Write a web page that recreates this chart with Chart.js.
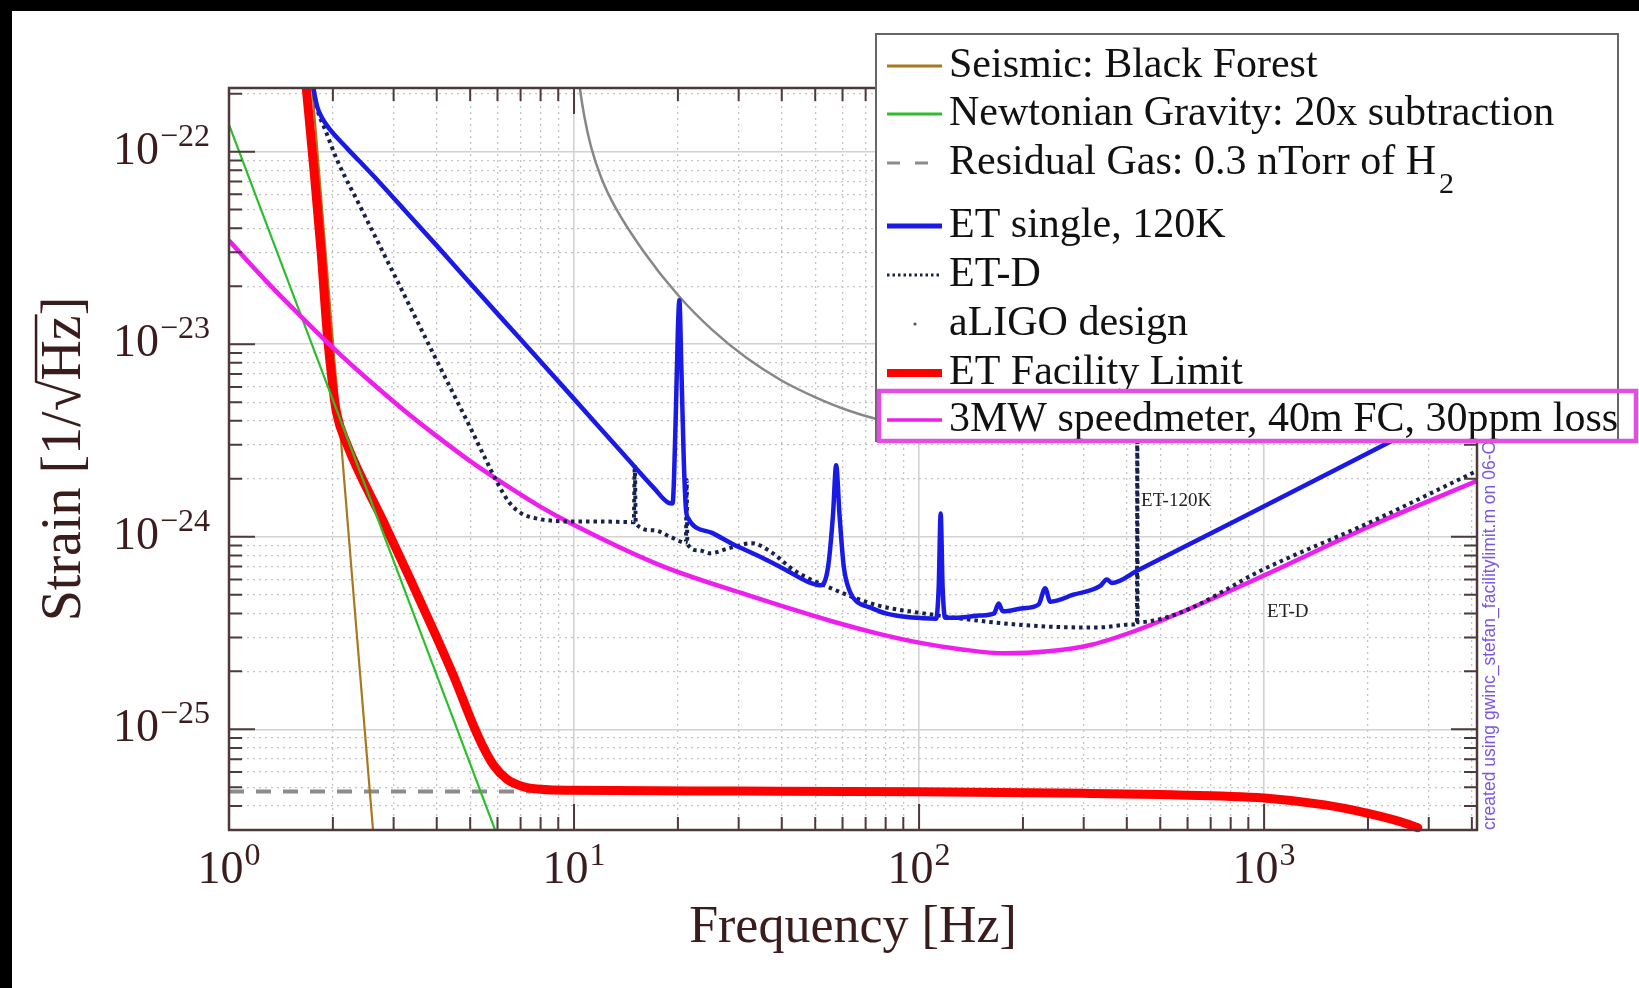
<!DOCTYPE html>
<html>
<head>
<meta charset="utf-8">
<title>ET facility limit</title>
<script src="https://cdn.jsdelivr.net/npm/chart.js@4.4.1/dist/chart.umd.min.js"></script>
<style>
html, body { margin:0; padding:0; background:#fff; overflow:hidden; }
canvas { display:block; }
</style>
</head>
<body>
<canvas id="chart" width="1639" height="988"></canvas>
<script>
// ---------------- axis ranges & tick labels ----------------
const X_MIN = 1, X_MAX = 4140;
const Y_MIN = 3e-26, Y_MAX = 2.14e-22;
const xMajorTicks = [1, 10, 100, 1000];
const xTickLabels = ['10^0', '10^1', '10^2', '10^3'];
const yMajorTicks = [1e-25, 1e-24, 1e-23, 1e-22];
const yTickLabels = ['10^−25', '10^−24', '10^−23', '10^−22'];
const xTitle = 'Frequency [Hz]';
const yTitle = 'Strain [1/√Hz]';

// ---------------- series (frequency [Hz], strain [1/sqrt(Hz)]) ----------------
const seismicF = [1.7, 2.33, 2.7];
const seismicH = [3.7e-22, 3.63e-25, 1.5e-26];

const newtonianF = [1, 6.6];
const newtonianH = [1.38e-22, 1.77e-26];

const gasF = [1, 7.5];
const gasH = [4.76e-26, 4.76e-26];

const etSingleF = [1.72, 1.76, 1.8, 1.86, 1.95, 2.2, 2.6, 3.17, 4, 5, 7, 10, 14, 17, 18.8, 19.3, 19.7, 20.0, 20.2, 20.45, 20.8, 21.1, 21.4, 25, 28.7, 35, 40.6, 48, 52, 54.5, 56.3, 57.5, 58.8, 60.5, 63, 66, 72, 80, 90, 103, 112, 114, 115.5, 117, 119, 130, 150, 165, 170, 175, 200, 222, 232, 240, 280, 335, 350, 362, 431, 1000, 2274, 4140];
const etSingleH = [3.0e-22, 2.1e-22, 1.72e-22, 1.5e-22, 1.32e-22, 1.04e-22, 7.6e-23, 5.15e-23, 3.25e-23, 2.07e-23, 1.06e-23, 5.2e-24, 2.65e-24, 1.8e-24, 1.5e-24, 1.49e-24, 4e-24, 1.2e-23, 1.69e-23, 8e-24, 2.5e-24, 1.4e-24, 1.25e-24, 1.05e-24, 9.2e-25, 7.8e-25, 6.8e-25, 5.8e-25, 5.6e-25, 7.0e-25, 1.3e-24, 2.35e-24, 1.3e-24, 7.0e-25, 5.2e-25, 4.6e-25, 4.3e-25, 4.0e-25, 3.85e-25, 3.77e-25, 3.75e-25, 5.5e-25, 1.32e-24, 5.5e-25, 3.8e-25, 3.8e-25, 3.9e-25, 4.0e-25, 4.5e-25, 4.1e-25, 4.25e-25, 4.45e-25, 5.4e-25, 4.6e-25, 5.0e-25, 5.55e-25, 6.0e-25, 5.75e-25, 6.7e-25, 1.44e-24, 3.06e-24, 5.3e-24];

const etdF = [1.72, 1.76, 1.8, 1.9, 2.06, 2.4, 2.87, 3.3, 3.9, 4.6, 5.0, 5.5, 6.0, 6.5, 7.0, 7.7, 8.7, 10, 12, 14.9, 15.0, 15.1, 17, 19, 21.1, 21.2, 21.3, 23, 24.8, 28, 32.8, 37, 43.4, 54.8, 76, 103, 173, 250, 330, 411, 428, 429, 430, 564, 1000, 2050, 4140];
const etdH = [3.0e-22, 2.1e-22, 1.68e-22, 1.3e-22, 9.0e-23, 5.19e-23, 2.73e-23, 1.65e-23, 9.0e-24, 4.99e-24, 3.7e-24, 2.6e-24, 1.9e-24, 1.5e-24, 1.33e-24, 1.25e-24, 1.21e-24, 1.2e-24, 1.2e-24, 1.19e-24, 2.35e-24, 1.17e-24, 1.08e-24, 1.0e-24, 9.3e-25, 1.97e-24, 9.2e-25, 8.5e-25, 8.2e-25, 8.7e-25, 9.25e-25, 8.4e-25, 6.7e-25, 5.46e-25, 4.4e-25, 4.0e-25, 3.56e-25, 3.4e-25, 3.38e-25, 3.5e-25, 3.55e-25, 4.5e-24, 3.6e-25, 4.0e-25, 6.8e-25, 1.2e-24, 2.2e-24];

const aligoF = [10.2, 10.4, 10.7, 11.2, 12.0, 13.2, 15.85, 20, 25.1, 31.6, 39.8, 50.1, 63, 79.4, 100, 200, 400, 1000, 4140];
const aligoH = [3.0e-22, 2.14e-22, 1.54e-22, 1.06e-22, 7.3e-23, 5.1e-23, 3.06e-23, 1.8e-23, 1.19e-23, 8.5e-24, 6.5e-24, 5.3e-24, 4.5e-24, 4.0e-24, 3.76e-24, 3.5e-24, 4.3e-24, 9e-24, 3.5e-23];

const facilityF = [1.64, 1.675, 1.76, 1.848, 1.927, 1.995, 2.05, 2.2, 2.8, 3.3, 4.0, 4.5, 5.05, 5.4, 5.85, 6.4, 7.1, 8, 10, 30, 100, 300, 500, 1000, 1500, 2000, 2500, 2790];
const facilityH = [3.2e-22, 2.14e-22, 8.3e-23, 3.06e-23, 1.13e-23, 6.2e-24, 4.4e-24, 3.0e-24, 1.2e-24, 6.4e-25, 3.0e-25, 1.85e-25, 1.1e-25, 8.4e-26, 6.5e-26, 5.5e-26, 5.05e-26, 4.88e-26, 4.82e-26, 4.78e-26, 4.74e-26, 4.65e-26, 4.58e-26, 4.4e-26, 4.05e-26, 3.66e-26, 3.3e-26, 3.08e-26];

const speedF = [1, 1.3, 1.6, 2, 2.5, 3.2, 4, 5, 6.3, 8, 10, 17.8, 31.6, 56.2, 75, 100, 133, 178, 237, 316, 422, 562, 1000, 1995, 4140];
const speedH = [3.45e-23, 2.07e-23, 1.42e-23, 9.6e-24, 6.67e-24, 4.57e-24, 3.33e-24, 2.47e-24, 1.87e-24, 1.43e-24, 1.15e-24, 7.1e-25, 5.0e-25, 3.63e-25, 3.16e-25, 2.82e-25, 2.6e-25, 2.48e-25, 2.54e-25, 2.75e-25, 3.24e-25, 3.98e-25, 6.3e-25, 1.12e-24, 1.95e-24];

// legend labels (in legend order)
const legendLabels = ['Seismic: Black Forest', 'Newtonian Gravity: 20x subtraction', 'Residual Gas: 0.3 nTorr of H', 'ET single, 120K', 'ET-D', 'aLIGO design', 'ET Facility Limit', '3MW speedmeter, 40m FC, 30ppm loss'];

// in-plot annotations
const annoText = ['ET-120K', 'ET-D'];
const annoF = [440, 1020];
const annoH = [1.53e-24, 4.06e-25];

const footerText = 'created using gwinc_stefan_facilitylimit.m on 06-Oct';

// ---------------- helpers ----------------
const SERIF = '"Liberation Serif", "Times New Roman", serif';
const AXIS_COLOR = '#4e3a3a';
const LABEL_COLOR = '#3a1c1c';

function isMajor(v) { const l = Math.log10(v); return Math.abs(l - Math.round(l)) < 1e-6; }
function labelFor(v, majors, labels) {
  const i = majors.findIndex(m => Math.abs(v / m - 1) < 1e-6);
  return i >= 0 ? labels[i] : '';
}
function tickValues(firstDecade, lo, hi) {
  const out = [];
  for (let e = 0; e < 12; e++) {
    const d = firstDecade * Math.pow(10, e);
    for (let k = 1; k <= 9; k++) {
      const v = parseFloat((k * d).toPrecision(6));
      if (v >= lo * 0.9999 && v <= hi * 1.0001) out.push(v);
    }
  }
  return out;
}
const xTickValues = tickValues(1, X_MIN, X_MAX);
const yTickValues = tickValues(1e-26, Y_MIN, Y_MAX);
function pts(F, H) { return F.map((f, i) => ({ x: f, y: H[i] })); }

// power-of-ten label with a real superscript
function drawPow(ctx, label, x, baseline, align) {
  const [base, exp] = label.split('^');
  ctx.font = '46px ' + SERIF;
  const w1 = ctx.measureText(base).width;
  ctx.font = '32px ' + SERIF;
  const w2 = ctx.measureText(exp).width;
  const total = w1 + 1 + w2;
  const x0 = align === 'center' ? x - total / 2 : x - total;
  ctx.textAlign = 'left';
  ctx.textBaseline = 'alphabetic';
  ctx.font = '46px ' + SERIF;
  ctx.fillText(base, x0, baseline);
  ctx.font = '32px ' + SERIF;
  ctx.fillText(exp, x0 + w1 + 1, baseline - 18);
}

// ---------------- plugins ----------------
const bgPlugin = {
  id: 'bg',
  beforeDraw(chart) {
    const ctx = chart.ctx;
    ctx.save();
    ctx.fillStyle = '#ffffff';
    ctx.fillRect(0, 0, chart.width, chart.height);
    ctx.fillStyle = '#000000';
    ctx.fillRect(0, 0, chart.width, 11);
    ctx.fillRect(0, 0, 12, chart.height);
    ctx.restore();
  }
};

const decorPlugin = {
  id: 'decor',
  afterDatasetsDraw(chart) {
    const { ctx, chartArea: a, scales: { x, y } } = chart;
    ctx.save();
    // inner ticks on all four sides
    ctx.strokeStyle = AXIS_COLOR;
    ctx.lineWidth = 2;
    ctx.beginPath();
    for (const t of x.ticks) {
      const px = x.getPixelForValue(t.value);
      if (px <= a.left + 1 || px >= a.right - 1) continue;
      const len = isMajor(t.value) ? 26 : 13;
      ctx.moveTo(px, a.bottom); ctx.lineTo(px, a.bottom - len);
      ctx.moveTo(px, a.top); ctx.lineTo(px, a.top + len);
    }
    for (const t of y.ticks) {
      const py = y.getPixelForValue(t.value);
      if (py <= a.top + 1 || py >= a.bottom - 1) continue;
      const len = isMajor(t.value) ? 26 : 13;
      ctx.moveTo(a.left, py); ctx.lineTo(a.left + len, py);
      ctx.moveTo(a.right, py); ctx.lineTo(a.right - len, py);
    }
    ctx.stroke();
    ctx.lineWidth = 2.5;
    ctx.strokeRect(a.left, a.top, a.right - a.left, a.bottom - a.top);

    // tick labels
    ctx.fillStyle = LABEL_COLOR;
    xMajorTicks.forEach((v, i) => drawPow(ctx, xTickLabels[i], x.getPixelForValue(v), a.bottom + 53, 'center'));
    yMajorTicks.forEach((v, i) => drawPow(ctx, yTickLabels[i], a.left - 19, y.getPixelForValue(v) + 12, 'right'));

    // annotations
    ctx.fillStyle = '#222';
    ctx.font = '19px ' + SERIF;
    ctx.textBaseline = 'middle';
    ctx.textAlign = 'left';
    annoText.forEach((t, i) => ctx.fillText(t, x.getPixelForValue(annoF[i]), y.getPixelForValue(annoH[i])));

    // vertical footer text along right axis
    ctx.save();
    ctx.translate(a.right + 18, a.bottom);
    ctx.rotate(-Math.PI / 2);
    ctx.fillStyle = '#7a55e6';
    ctx.font = '17.5px "Liberation Sans", Arial, sans-serif';
    ctx.textBaseline = 'alphabetic';
    ctx.textAlign = 'left';
    ctx.fillText(footerText, 0, 0);
    ctx.restore();
    ctx.restore();
  },
  afterDraw(chart) {
    const { ctx, scales: { y } } = chart;
    ctx.save();
    // overline of the square root in the y title
    ctx.font = '56px ' + SERIF;
    ctx.textBaseline = 'middle';
    const W = ctx.measureText(yTitle).width;
    const pre = ctx.measureText(yTitle.slice(0, yTitle.indexOf('√') + 1)).width;
    const hzW = ctx.measureText('Hz').width;
    const cx = y.left + 31.5 + 56 * 1.2 / 2;
    const cy = (y.top + y.bottom) / 2;
    const m = ctx.measureText('√');
    ctx.translate(cx, cy);
    ctx.rotate(-Math.PI / 2);
    ctx.fillStyle = LABEL_COLOR;
    ctx.fillRect(-W / 2 + pre - 2, -m.actualBoundingBoxAscent, hzW + 3, 2.5);
    ctx.restore();

    // legend
    ctx.save();
    const L = 876, T = 34, R = 1618, B = 441;
    ctx.fillStyle = '#fff';
    ctx.fillRect(L, T, R - L, B - T);
    ctx.strokeStyle = '#666';
    ctx.lineWidth = 2;
    ctx.strokeRect(L, T, R - L, B - T);
    const rowY = [66, 114, 163, 226, 275, 324, 373, 420];
    const sx0 = 887, sx1 = 942, tx = 949;
    const ds = chart.data.datasets;
    const order = [5, 3, 7, 0, 1, 6, 4, 2];
    legendLabels.forEach((lab, i) => {
      const d = ds[order[i]];
      const ly = rowY[i];
      ctx.save();
      ctx.strokeStyle = d.borderColor;
      ctx.lineCap = 'butt';
      if (lab.startsWith('aLIGO')) {
        ctx.fillStyle = '#555';
        ctx.beginPath(); ctx.arc(915, ly, 1.6, 0, Math.PI * 2); ctx.fill();
      } else {
        ctx.lineWidth = lab.startsWith('ET Facility') ? 8 : (lab.startsWith('ET single') ? 5 : (lab.startsWith('3MW') ? 3.5 : 3));
        if (lab.startsWith('Residual')) ctx.setLineDash([13, 15]);
        else if (lab === 'ET-D') ctx.setLineDash([2.5, 3]);
        ctx.beginPath(); ctx.moveTo(sx0, ly); ctx.lineTo(sx1, ly); ctx.stroke();
      }
      ctx.restore();
      ctx.fillStyle = '#111';
      ctx.font = '42px ' + SERIF;
      ctx.textBaseline = 'middle';
      ctx.textAlign = 'left';
      ctx.fillText(lab, tx, ly);
      if (lab.startsWith('Residual')) {
        const w = ctx.measureText(lab).width;
        ctx.save();
        ctx.font = '30px ' + SERIF;
        ctx.textBaseline = 'alphabetic';
        ctx.fillText('2', tx + w + 3, 193);
        ctx.restore();
      }
    });
    // magenta highlight around the last entry
    ctx.strokeStyle = '#e24ee2';
    ctx.lineWidth = 4.5;
    ctx.strokeRect(879, 391, 757, 50);
    ctx.restore();
  }
};

// ---------------- chart ----------------
const common = { pointRadius: 0, fill: false, clip: 0, cubicInterpolationMode: 'monotone' };
const gridColor = c => (c.tick && isMajor(c.tick.value)) ? '#d2d2d2' : '#c4c4c4';
const gridWidth = c => (c.tick && isMajor(c.tick.value)) ? 1.6 : 1.3;
const gridDash = c => (c.tick && isMajor(c.tick.value)) ? [] : [2, 4];

new Chart(document.getElementById('chart'), {
  type: 'line',
  data: {
    datasets: [
      Object.assign({ label: 'ET single, 120K', data: pts(etSingleF, etSingleH), borderColor: '#1a1ae6', borderWidth: 4.5, order: 0 }, common),
      Object.assign({ label: 'ET-D', data: pts(etdF, etdH), borderColor: '#17214d', borderWidth: 4, borderDash: [3.5, 4], order: 1 }, common),
      Object.assign({ label: '3MW speedmeter, 40m FC, 30ppm loss', data: pts(speedF, speedH), borderColor: '#ee1eee', borderWidth: 4.5, order: 2 }, common),
      Object.assign({ label: 'Newtonian Gravity: 20x subtraction', data: pts(newtonianF, newtonianH), borderColor: '#2cbf2c', borderWidth: 2.2, order: 3 }, common),
      Object.assign({ label: 'ET Facility Limit', data: pts(facilityF, facilityH), borderColor: '#ff0000', borderWidth: 9, borderCapStyle: 'round', order: 4 }, common, { clip: { left: 0, top: 0, right: 0, bottom: 6 } }),
      Object.assign({ label: 'Seismic: Black Forest', data: pts(seismicF, seismicH), borderColor: '#a8781f', borderWidth: 2.2, order: 5 }, common),
      Object.assign({ label: 'aLIGO design', data: pts(aligoF, aligoH), borderColor: '#878787', borderWidth: 2.5, order: 6 }, common),
      Object.assign({ label: 'Residual Gas: 0.3 nTorr of H₂', data: pts(gasF, gasH), borderColor: '#8c8c8c', borderWidth: 4, borderDash: [15, 12], order: 7 }, common)
    ]
  },
  options: {
    responsive: false,
    animation: false,
    devicePixelRatio: 1,
    events: [],
    layout: { padding: { left: 0, top: 88, right: 162, bottom: 0 } },
    plugins: { legend: { display: false }, tooltip: { enabled: false } },
    scales: {
      x: {
        type: 'logarithmic',
        min: X_MIN, max: X_MAX,
        afterBuildTicks: s => { s.ticks = xTickValues.map(v => ({ value: v, major: false })); },
        afterFit: s => { s.height = 158; },
        grid: { drawTicks: false, color: gridColor, lineWidth: gridWidth },
        border: { display: false, dash: gridDash },
        ticks: { display: false, autoSkip: false, callback: v => labelFor(v, xMajorTicks, xTickLabels) },
        title: { display: true, text: xTitle, color: LABEL_COLOR, font: { family: SERIF, size: 52 }, padding: { top: 0, bottom: 28 } }
      },
      y: {
        type: 'logarithmic',
        min: Y_MIN, max: Y_MAX,
        afterBuildTicks: s => { s.ticks = yTickValues.map(v => ({ value: v, major: false })); },
        afterFit: s => { s.width = 229; },
        grid: { drawTicks: false, color: gridColor, lineWidth: gridWidth },
        border: { display: false, dash: gridDash },
        ticks: { display: false, autoSkip: false, callback: v => labelFor(v, yMajorTicks, yTickLabels) },
        title: { display: true, text: yTitle, color: LABEL_COLOR, font: { family: SERIF, size: 56 }, padding: { top: 31.5, bottom: 0 } }
      }
    }
  },
  plugins: [bgPlugin, decorPlugin]
});
</script>
</body>
</html>
